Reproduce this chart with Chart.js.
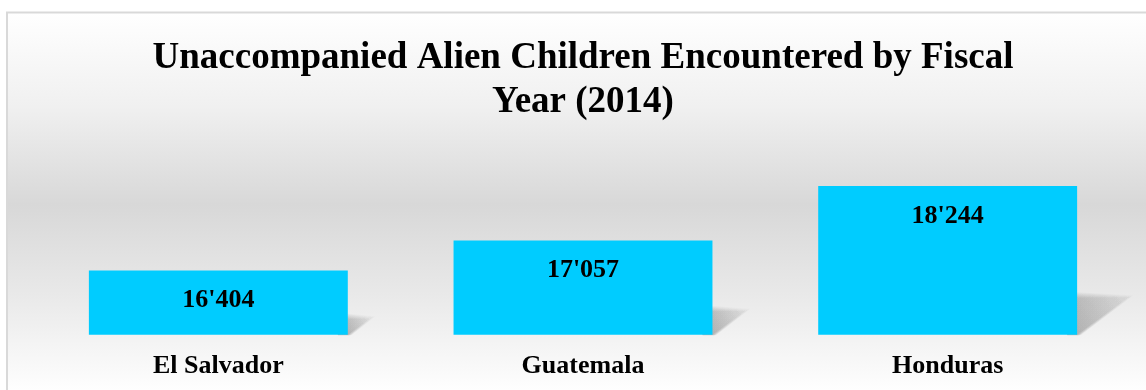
<!DOCTYPE html>
<html>
<head>
<meta charset="utf-8">
<script src="https://cdn.jsdelivr.net/npm/chart.js@4"></script>
<style>
  html, body { margin: 0; padding: 0; background: #fff; }
  #wrap { width: 1146px; height: 390px; }
</style>
</head>
<body>
<div id="wrap"><canvas id="uacChart" width="1146" height="390"></canvas></div>
<script>
const countries = ['El Salvador', 'Guatemala', 'Honduras'];
const children2014 = [16404, 17057, 18244];
const titleLines = ['Unaccompanied Alien Children Encountered by Fiscal', 'Year (2014)'];

const serif = "'Liberation Serif', 'Times New Roman', serif";

function formatCount(n) {
    return String(n).replace(/\B(?=(\d{3})+(?!\d))/g, "'");
}

// grey gradient panel with a thin border behind everything
const panelBackground = {
    id: 'panelBackground',
    beforeDraw(chart) {
        const ctx = chart.ctx;
        const w = chart.width, h = chart.height;
        ctx.save();
        ctx.fillStyle = '#ffffff';
        ctx.fillRect(0, 0, w, h);
        const g = ctx.createLinearGradient(0, 12, 0, h);
        g.addColorStop(0, '#ffffff');
        g.addColorStop(0.25, '#f0f0f0');
        g.addColorStop(0.51, '#d8d8d8');
        g.addColorStop(0.75, '#e9e9e9');
        g.addColorStop(1, '#fefefe');
        ctx.fillStyle = g;
        ctx.fillRect(7, 12, w, h);
        ctx.strokeStyle = '#d9d9d9';
        ctx.lineWidth = 2;
        ctx.strokeRect(7, 12.5, w + 10, h + 10);
        ctx.restore();
    }
};

// slanted perspective shadow to the right of each bar, softened by stacking faint layers
const barShadow = {
    id: 'barShadow',
    beforeDatasetsDraw(chart) {
        const ctx = chart.ctx;
        const xs = chart.scales.x;
        const ys = chart.scales.y;
        const B = ys.getPixelForValue(ys.min);
        const bw = (xs.width / chart.data.labels.length) * 0.71;
        chart.data.datasets[0].data.forEach((v, i) => {
            const cx = xs.getPixelForValue(i);
            const top = ys.getPixelForValue(v);
            const R = cx + bw / 2;
            const H = B - top;
            const dx = H * 0.34;
            const dy = H * 0.25;
            const g = ctx.createLinearGradient(R, B, R + dx, B - dy);
            g.addColorStop(0, 'rgba(0,0,0,0.045)');
            g.addColorStop(1, 'rgba(0,0,0,0.012)');
            ctx.save();
            ctx.beginPath();
            ctx.rect(R - 20, 0, chart.width, B + 0.5);
            ctx.clip();
            ctx.fillStyle = g;
            for (let k = 0; k < 7; k++) {
                const s = 6 - k;
                ctx.beginPath();
                ctx.moveTo(R - 10, B + s * 0.3);
                ctx.lineTo(R + s * 0.3, B + s * 0.3);
                ctx.lineTo(R + dx + s, B - dy - s * 0.4);
                ctx.lineTo(R - 10, B - dy - s);
                ctx.closePath();
                ctx.fill();
            }
            ctx.restore();
        });
    }
};

// value labels inside the top of each bar
const valueLabels = {
    id: 'valueLabels',
    afterDatasetsDraw(chart) {
        const ctx = chart.ctx;
        const ds = chart.data.datasets[0];
        ctx.save();
        ctx.font = 'bold 26px ' + serif;
        ctx.fillStyle = '#000';
        ctx.textAlign = 'center';
        ctx.textBaseline = 'middle';
        chart.getDatasetMeta(0).data.forEach((bar, i) => {
            ctx.fillText(formatCount(ds.data[i]), bar.x, bar.y + 30);
        });
        ctx.restore();
    }
};

new Chart(document.getElementById('uacChart'), {
    type: 'bar',
    data: {
        labels: countries,
        datasets: [{
            data: children2014,
            backgroundColor: '#00ccff',
            borderWidth: 0,
            categoryPercentage: 0.71,
            barPercentage: 1
        }]
    },
    options: {
        responsive: false,
        animation: false,
        layout: { padding: { left: 36, right: 16, top: 0, bottom: -8 } },
        plugins: {
            legend: { display: false },
            tooltip: { enabled: false },
            title: {
                display: true,
                text: titleLines,
                color: '#000',
                font: { family: serif, size: 37, weight: 'bold', lineHeight: 1.2 },
                padding: { top: 36, bottom: 12 }
            }
        },
        scales: {
            x: {
                grid: { display: false, drawTicks: false },
                border: { display: false },
                ticks: {
                    color: '#000',
                    padding: 16,
                    font: { family: serif, size: 26, weight: 'bold' }
                }
            },
            y: {
                display: false,
                min: 15000,
                max: 19320
            }
        }
    },
    plugins: [panelBackground, barShadow, valueLabels]
});
</script>
</body>
</html>
